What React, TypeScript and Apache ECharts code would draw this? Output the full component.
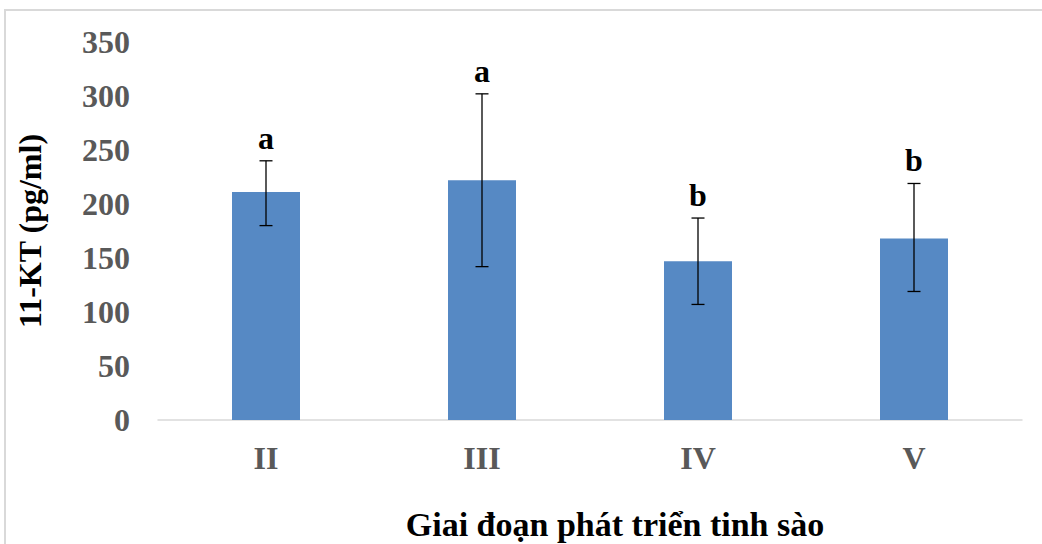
import React, { useEffect, useRef } from "react";
import * as echarts from "echarts";

const categories = ["II", "III", "IV", "V"];
const means = [211, 222, 147, 168];
const errLow = [180, 142, 107, 119];
const errHigh = [240, 302, 187, 219];
const letters = ["a", "a", "b", "b"];

const FONT = '"Liberation Serif", "Times New Roman", serif';

export default function App() {
  const ref = useRef<HTMLDivElement>(null);
  useEffect(() => {
    document.body.style.margin = "0";
    const chart = echarts.init(ref.current!, null, { renderer: "svg" });
    const errData = categories.map((c, i) => [i, errLow[i], errHigh[i], letters[i]]);
    chart.setOption({
      animation: false,
      backgroundColor: "#ffffff",
      graphic: [
        {
          type: "rect",
          shape: { x: 5, y: 10, width: 1045, height: 545 },
          style: { fill: "none", stroke: "#d9d9d9", lineWidth: 2 },
          silent: true,
        },
      ],
      grid: { left: 158, right: 20, top: 42, bottom: 124, outerBoundsMode: "none", containLabel: false },
      xAxis: {
        type: "category",
        data: categories,
        axisLine: { show: true, lineStyle: { color: "#d9d9d9", width: 1.5 } },
        axisTick: { show: false },
        axisLabel: {
          color: "#595959",
          fontFamily: FONT,
          fontWeight: "bold",
          fontSize: 32,
          margin: 22,
        },
        name: "Giai đoạn phát triển tinh sào",
        nameLocation: "middle",
        nameGap: 87,
        nameTextStyle: {
          color: "#000000",
          fontFamily: FONT,
          fontWeight: "bold",
          fontSize: 34,
          padding: [0, 0, 0, 50],
        },
      },
      yAxis: {
        type: "value",
        min: 0,
        max: 350,
        interval: 50,
        axisLine: { show: false },
        axisTick: { show: false },
        splitLine: { show: false },
        axisLabel: {
          color: "#595959",
          fontFamily: FONT,
          fontWeight: "bold",
          fontSize: 32,
          margin: 28,
        },
        name: "11-KT (pg/ml)",
        nameLocation: "middle",
        nameGap: 112,
        nameRotate: 90,
        nameTextStyle: {
          color: "#000000",
          fontFamily: FONT,
          fontWeight: "bold",
          fontSize: 32,
        },
      },
      series: [
        {
          type: "bar",
          data: means,
          barWidth: 68,
          itemStyle: { color: "#5689c4" },
        },
        {
          type: "custom",
          data: errData,
          z: 10,
          renderItem: (params: any, api: any) => {
            const x = api.value(0);
            const lo = api.coord([x, api.value(1)]);
            const hi = api.coord([x, api.value(2)]);
            const cap = 6.5;
            const style = { stroke: "#000000", lineWidth: 1.3 };
            return {
              type: "group",
              children: [
                { type: "line", shape: { x1: hi[0], y1: hi[1], x2: lo[0], y2: lo[1] }, style },
                { type: "line", shape: { x1: hi[0] - cap, y1: hi[1], x2: hi[0] + cap, y2: hi[1] }, style },
                { type: "line", shape: { x1: lo[0] - cap, y1: lo[1], x2: lo[0] + cap, y2: lo[1] }, style },
                {
                  type: "text",
                  x: hi[0],
                  y: hi[1] - 7,
                  style: {
                    text: api.value(3),
                    fill: "#000000",
                    font: `bold 32px ${FONT}`,
                    align: "center",
                    verticalAlign: "bottom",
                  },
                },
              ],
            };
          },
        },
      ],
    });
    return () => chart.dispose();
  }, []);
  return <div ref={ref} style={{ width: 1042, height: 544 }} />;
}
